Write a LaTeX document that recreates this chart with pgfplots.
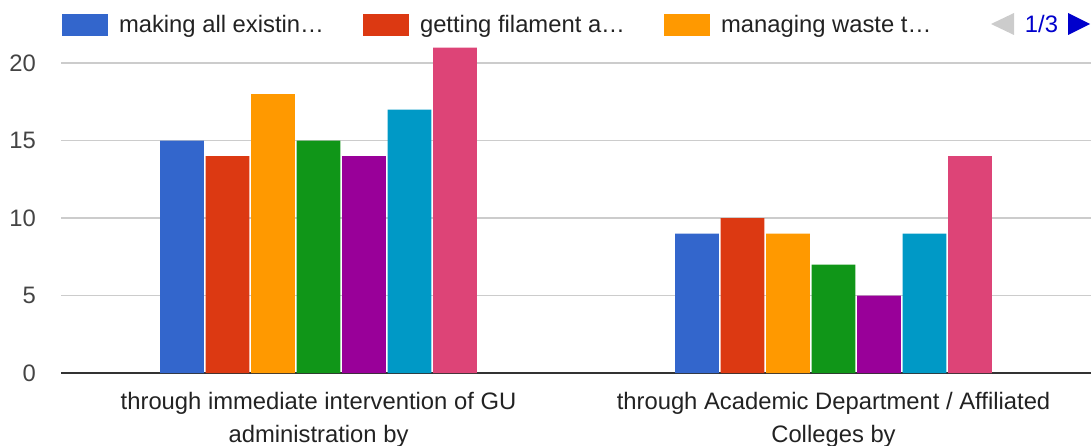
\documentclass[border=0pt]{standalone}
\usepackage{fontspec}
\setmainfont{Liberation Sans}
\usepackage{pgfplots}
\pgfplotsset{compat=1.18}
\definecolor{c1}{HTML}{3366CC}
\definecolor{c2}{HTML}{DC3912}
\definecolor{c3}{HTML}{FF9900}
\definecolor{c4}{HTML}{109618}
\definecolor{c5}{HTML}{990099}
\definecolor{c6}{HTML}{0099C6}
\definecolor{c7}{HTML}{DD4477}
\definecolor{gridc}{HTML}{CCCCCC}
\definecolor{axc}{HTML}{333333}
\definecolor{tickc}{HTML}{444444}
\definecolor{labc}{HTML}{222222}
\definecolor{navc}{HTML}{0000CC}
\begin{document}
\begin{tikzpicture}[x=1pt,y=1pt]
\useasboundingbox (-61,-72) rectangle (1030,373);
\begin{axis}[
  at={(0,0)}, anchor=south west,
  width=1030pt, height=325.5pt, scale only axis,
  xmin=-0.5, xmax=1.5, ymin=0, ymax=21,
  ybar=1.8pt, bar width=43.7pt,
  xtick={0,1},
  xticklabels={{through immediate intervention of GU\\administration by},{through Academic Department / Affiliated\\Colleges by}},
  ytick={0,5,10,15,20},
  /pgf/number format/assume math mode=true,
  axis x line*=bottom, axis y line*=left,
  x axis line style={draw=axc, line width=2pt},
  y axis line style={draw=none},
  xtick style={draw=none}, ytick style={draw=none},
  ymajorgrids, grid style={draw=gridc, line width=1.3pt},
  xticklabel style={align=center, inner sep=0pt, yshift=-15pt, text=labc,
    font=\fontsize{23.8}{32.3}\selectfont},
  yticklabel style={inner sep=0pt, xshift=-25pt, text=tickc,
    font=\fontsize{23.8}{28}\selectfont},
  clip=false,
  legend style={at={(0.00097,1.0691)}, anchor=west, draw=none, fill=none,
    inner sep=0pt, outer sep=0pt, legend columns=3,
    /tikz/every even column/.append style={column sep=39pt},
    nodes={inner sep=0pt, text=labc, font=\fontsize{23.8}{28}\selectfont}},
  legend cell align=left,
  legend image code/.code={\path[#1, draw=none] (0pt,-11pt) rectangle (46pt,11pt); \path (57pt,0pt);},
]
\addplot[fill=c1, draw=none] coordinates {(0,15) (1,9)};
\addlegendentry{making all existin…}
\addplot[fill=c2, draw=none] coordinates {(0,14) (1,10)};
\addlegendentry{getting filament a…}
\addplot[fill=c3, draw=none] coordinates {(0,18) (1,9)};
\addlegendentry{managing waste t…}
\addplot[fill=c4, draw=none] coordinates {(0,15) (1,7)};
\addplot[fill=c5, draw=none] coordinates {(0,14) (1,5)};
\addplot[fill=c6, draw=none] coordinates {(0,17) (1,9)};
\addplot[fill=c7, draw=none] coordinates {(0,21) (1,14)};
\end{axis}
\fill[gridc] (930,349) -- (953,360) -- (953,338) -- cycle;
\node[text=navc, font=\fontsize{23.8}{28}\selectfont, inner sep=0pt] at (980.5,349) {1/3};
\fill[navc] (1007,360) -- (1007,338) -- (1029,349) -- cycle;
\end{tikzpicture}
\end{document}
